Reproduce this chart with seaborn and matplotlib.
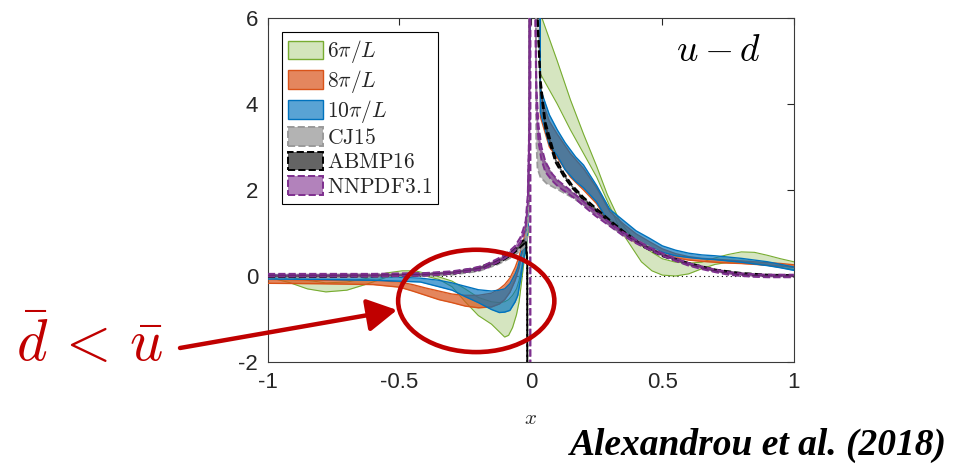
import numpy as np
import matplotlib
matplotlib.use("Agg")
import matplotlib.pyplot as plt
from matplotlib.patches import Patch, Ellipse
import seaborn as sns

# ---------------- data: u - d quasi-PDF bands ----------------
# lattice 6pi/L
g_x  = [-1.0, -0.92, -0.85, -0.78, -0.7, -0.62, -0.55, -0.49, -0.44, -0.4, -0.35, -0.3, -0.25, -0.2,
        -0.15, -0.12, -0.1, -0.085, -0.07, -0.055, -0.045, -0.035, -0.025, -0.01, 0.0, 0.03, 0.036,
        0.1, 0.15, 0.2, 0.25, 0.29, 0.34, 0.38, 0.42, 0.46, 0.5, 0.55, 0.6, 0.65, 0.7, 0.75, 0.8,
        0.85, 0.9, 0.95, 1.0]
g_lo = [-0.03, -0.15, -0.3, -0.37, -0.33, -0.18, -0.03, 0.0, 0.02, 0.0, -0.08, -0.25, -0.6, -0.92,
        -1.12, -1.3, -1.42, -1.38, -1.2, -0.9, -0.6, -0.1, 0.4, 1.0, 9.0, 9.0, 4.7,
        4.0, 3.4, 2.85, 2.3, 1.75, 1.07, 0.7, 0.33, 0.12, 0.02, 0.0, 0.05, 0.17, 0.27, 0.32, 0.33,
        0.3, 0.25, 0.2, 0.15]
g_hi = [0.05, -0.02, -0.1, -0.16, -0.14, -0.05, 0.07, 0.12, 0.12, 0.06, -0.02, -0.12, -0.3, -0.5,
        -0.6, -0.62, -0.6, -0.55, -0.45, -0.3, -0.1, 0.2, 0.6, 1.5, 9.0, 9.0, 6.1,
        5.0, 4.1, 3.3, 2.55, 1.9, 1.25, 0.95, 0.72, 0.55, 0.4, 0.32, 0.3, 0.32, 0.42, 0.5, 0.56,
        0.55, 0.48, 0.4, 0.33]

# lattice 8pi/L
o_x  = [-1.0, -0.8, -0.6, -0.5, -0.45, -0.4, -0.35, -0.3, -0.25, -0.2, -0.15, -0.12, -0.1, -0.08,
        -0.06, -0.045, -0.035, -0.025, -0.01, 0.0, 0.033, 0.036, 0.07, 0.1, 0.15, 0.2, 0.25, 0.3,
        0.35, 0.4, 0.45, 0.5, 0.55, 0.6, 0.65, 0.7, 0.75, 0.8, 0.85, 0.9, 0.95, 1.0]
o_lo = [-0.17, -0.18, -0.2, -0.26, -0.35, -0.45, -0.55, -0.62, -0.7, -0.74, -0.72, -0.65, -0.55, -0.38,
        -0.1, 0.2, 0.5, 0.7, 1.3, 9.0, 9.0, 3.7, 3.0, 2.75, 2.3, 2.0, 1.68, 1.2,
        0.95, 0.77, 0.63, 0.5, 0.42, 0.37, 0.34, 0.32, 0.3, 0.29, 0.27, 0.25, 0.23, 0.2]
o_hi = [-0.09, -0.1, -0.1, -0.14, -0.2, -0.28, -0.35, -0.42, -0.45, -0.45, -0.4, -0.3, -0.2, -0.05,
        0.2, 0.45, 0.7, 0.9, 1.7, 9.0, 9.0, 4.2, 3.6, 3.3, 2.85, 2.5, 2.05, 1.5,
        1.22, 0.98, 0.8, 0.63, 0.52, 0.45, 0.41, 0.39, 0.37, 0.35, 0.33, 0.31, 0.29, 0.26]

# lattice 10pi/L
b_x  = [-1.0, -0.8, -0.6, -0.5, -0.42, -0.35, -0.3, -0.25, -0.2, -0.15, -0.12, -0.1, -0.08, -0.06,
        -0.05, -0.04, -0.03, -0.02, -0.01, 0.0, 0.033, 0.036, 0.07, 0.1, 0.13, 0.17, 0.2, 0.25, 0.3,
        0.35, 0.4, 0.45, 0.5, 0.55, 0.6, 0.65, 0.7, 0.75, 0.8, 0.85, 0.9, 0.95, 1.0]
b_lo = [-0.07, -0.08, -0.1, -0.12, -0.14, -0.25, -0.33, -0.48, -0.62, -0.78, -0.85, -0.84, -0.8, -0.6,
        -0.45, -0.1, 0.3, 0.6, 1.2, 9.0, 9.0, 3.8, 3.05, 2.8, 2.47, 2.2, 2.05, 1.72, 1.2,
        0.98, 0.8, 0.68, 0.55, 0.47, 0.43, 0.4, 0.38, 0.35, 0.32, 0.28, 0.24, 0.19, 0.13]
b_hi = [0.02, 0.0, -0.02, -0.03, -0.05, -0.1, -0.16, -0.24, -0.32, -0.35, -0.33, -0.3, -0.18, 0.05,
        0.2, 0.45, 0.7, 0.9, 1.8, 9.0, 9.0, 4.35, 3.75, 3.4, 3.1, 2.77, 2.58, 2.1, 1.55,
        1.3, 1.05, 0.88, 0.7, 0.6, 0.53, 0.49, 0.47, 0.44, 0.41, 0.37, 0.33, 0.27, 0.21]

# CJ15 (negative and positive branches)
cj_xn  = [-1.0, -0.8, -0.6, -0.5, -0.4, -0.3, -0.2, -0.13, -0.1, -0.07, -0.05, -0.035, -0.025,
          -0.015, -0.008, -0.005]
cj_lon = [-0.03, -0.03, -0.02, -0.01, 0.0, 0.03, 0.11, 0.26, 0.35, 0.45, 0.54, 0.62, 0.68, 0.85, 1.6, 30.0]
cj_hin = [0.03, 0.03, 0.04, 0.05, 0.06, 0.09, 0.19, 0.34, 0.45, 0.55, 0.66, 0.74, 0.82, 1.05, 2.0, 30.0]
cj_xp  = [0.01, 0.02, 0.025, 0.036, 0.06, 0.1, 0.15, 0.2, 0.25, 0.3, 0.35, 0.4, 0.5, 0.6, 0.7, 0.8, 0.9, 1.0]
cj_lop = [30.0, 3.2, 2.5, 2.3, 2.15, 2.02, 1.85, 1.66, 1.42, 1.17, 0.95, 0.78, 0.47, 0.26, 0.11, 0.03, 0.0, 0.0]
cj_hip = [30.0, 4.5, 3.6, 3.0, 2.55, 2.2, 1.97, 1.74, 1.5, 1.24, 1.02, 0.84, 0.52, 0.3, 0.15, 0.06, 0.02, 0.01]

# ABMP16 (central value and error)
ab_xn  = [-1.0, -0.8, -0.6, -0.5, -0.4, -0.3, -0.2, -0.13, -0.1, -0.07, -0.05, -0.035, -0.025,
          -0.018, -0.014, -0.0135]
ab_cn  = [0.0, 0.0, 0.01, 0.02, 0.04, 0.07, 0.17, 0.32, 0.42, 0.55, 0.65, 0.75, 0.8, 0.72, 0.3, -30.0]
ab_en  = [0.02, 0.02, 0.02, 0.02, 0.02, 0.02, 0.03, 0.03, 0.03, 0.04, 0.04, 0.05, 0.05, 0.05, 0.05, 0.05]
ab_xp  = [0.018, 0.025, 0.036, 0.055, 0.093, 0.125, 0.158, 0.2, 0.245, 0.3, 0.35, 0.42, 0.5, 0.6,
          0.7, 0.8, 0.9, 1.0]
ab_cp  = [30.0, 6.0, 4.5, 3.5, 2.7, 2.35, 2.07, 1.8, 1.56, 1.27, 1.03, 0.72, 0.48, 0.28, 0.13, 0.05, 0.01, 0.0]
ab_ep  = [0.2, 0.15, 0.1, 0.08, 0.05, 0.04, 0.03, 0.03, 0.03, 0.03, 0.02, 0.02, 0.02, 0.02, 0.02, 0.02, 0.02, 0.02]

# NNPDF3.1 (central value and error)
nn_xn  = [-1.0, -0.8, -0.6, -0.5, -0.4, -0.3, -0.23, -0.18, -0.13, -0.1, -0.078, -0.06, -0.04, -0.03,
          -0.02, -0.012, -0.006, -0.003, -0.002]
nn_cn  = [0.02, 0.02, 0.02, 0.03, 0.04, 0.08, 0.14, 0.2, 0.35, 0.45, 0.55, 0.65, 0.84, 1.0,
          1.2, 1.8, 3.5, 30.0, -30.0]
nn_en  = [0.03, 0.03, 0.03, 0.03, 0.03, 0.03, 0.03, 0.04, 0.04, 0.04, 0.05, 0.05, 0.06, 0.07,
          0.08, 0.1, 0.15, 0.2, 0.2]
nn_xp  = [0.012, 0.017, 0.021, 0.029, 0.04, 0.055, 0.08, 0.105, 0.14, 0.17, 0.2, 0.245, 0.3, 0.35,
          0.4, 0.45, 0.5, 0.55, 0.6, 0.65, 0.7, 0.75, 0.8, 0.85, 0.9, 1.0]
nn_cp  = [30.0, 6.0, 4.1, 3.3, 2.85, 2.54, 2.3, 2.14, 1.98, 1.84, 1.68, 1.45, 1.2, 0.98,
          0.8, 0.64, 0.5, 0.38, 0.27, 0.19, 0.12, 0.06, 0.03, 0.01, 0.0, 0.0]
nn_ep  = [0.3, 0.3, 0.25, 0.2, 0.15, 0.12, 0.08, 0.07, 0.06, 0.05, 0.05, 0.05, 0.04, 0.04,
          0.04, 0.03, 0.03, 0.03, 0.03, 0.03, 0.03, 0.03, 0.03, 0.03, 0.03, 0.03]

labels = [r"$6\pi/L$", r"$8\pi/L$", r"$10\pi/L$", r"$\mathrm{CJ15}$", r"$\mathrm{ABMP16}$",
          r"$\mathrm{NNPDF3.1}$"]
x_ticks = [-1, -0.5, 0, 0.5, 1]
x_ticklabels = ["-1", "-0.5", "0", "0.5", "1"]
y_ticks = [-2, 0, 2, 4, 6]
y_ticklabels = ["-2", "0", "2", "4", "6"]

# ---------------- style ----------------
sns.set_style("white")
plt.rcParams["font.family"] = ["Liberation Sans", "DejaVu Sans"]
plt.rcParams["mathtext.fontset"] = "cm"
plt.rcParams["axes.unicode_minus"] = False

GREEN, ORANGE, BLUE = "#77AC30", "#D95319", "#0072BD"
PURPLE = "#7E2F8E"
RED = "#C00000"
TXT = "#262626"

fig = plt.figure(figsize=(9.57, 4.66), dpi=100)
ax = fig.add_axes([0.2800, 0.2232, 0.5496, 0.7382])

ax.axhline(0, color="k", linestyle=(0, (1, 3)), lw=0.8, zorder=1)


def band(x, lo, hi, edge, face, alpha, ls, lw, z):
    x = np.asarray(x, float)
    lo = np.asarray(lo, float)
    hi = np.asarray(hi, float)
    ax.fill_between(x, lo, hi, color=face, alpha=alpha, lw=0, zorder=z)
    for y in (lo, hi):
        sns.lineplot(x=x, y=y, ax=ax, color=edge, lw=lw, linestyle=ls, sort=False,
                     estimator=None, legend=False, zorder=z + 0.1)


band(g_x, g_lo, g_hi, GREEN, GREEN, 0.3, "-", 0.8, 2)
band(o_x, o_lo, o_hi, ORANGE, ORANGE, 0.7, "-", 1.0, 3)
band(b_x, b_lo, b_hi, BLUE, BLUE, 0.65, "-", 1.0, 4)

band(cj_xn, cj_lon, cj_hin, "#9a9a9a", "#999999", 0.7, "--", 1.3, 5)
band(cj_xp, cj_lop, cj_hip, "#9a9a9a", "#999999", 0.7, "--", 1.3, 5)

for xs, c, e in ((ab_xn, ab_cn, ab_en), (ab_xp, ab_cp, ab_ep)):
    c, e = np.asarray(c), np.asarray(e)
    band(xs, c - e, c + e, "black", "#333333", 0.75, "--", 1.4, 6)

for xs, c, e in ((nn_xn, nn_cn, nn_en), (nn_xp, nn_cp, nn_ep)):
    c, e = np.asarray(c), np.asarray(e)
    band(xs, c - e, c + e, PURPLE, PURPLE, 0.6, "--", 1.4, 7)

# ---------------- axes ----------------
ax.set_xlim(-1, 1)
ax.set_ylim(-2, 6)
ax.set_xticks(x_ticks)
ax.set_xticklabels(x_ticklabels)
ax.set_yticks(y_ticks)
ax.set_yticklabels(y_ticklabels)
ax.tick_params(direction="in", top=True, right=True, length=5, width=0.8,
               labelsize=16, labelcolor=TXT, color=TXT, pad=7)
for s in ax.spines.values():
    s.set_color("#3a3a3a")
    s.set_linewidth(0.8)
ax.set_xlabel(r"$x$", fontsize=15, color=TXT, labelpad=12)
ax.set_ylabel("")

ax.text(0.856, 0.905, r"$u-d$", transform=ax.transAxes, fontsize=27,
        ha="center", va="center", color="black")

# ---------------- legend ----------------
handles = [
    Patch(facecolor="#d3e5bb", edgecolor=GREEN, lw=1.0),
    Patch(facecolor="#e4865e", edgecolor=ORANGE, lw=1.0),
    Patch(facecolor="#59a3d4", edgecolor=BLUE, lw=1.0),
    Patch(facecolor="#b3b3b3", edgecolor="#9a9a9a", lw=1.4, linestyle="--"),
    Patch(facecolor="#646464", edgecolor="black", lw=1.4, linestyle="--"),
    Patch(facecolor="#b282bb", edgecolor=PURPLE, lw=1.4, linestyle="--"),
]
leg = ax.legend(handles, labels, loc="upper left", bbox_to_anchor=(0.027, 0.958),
                borderaxespad=0, fontsize=15.5, handlelength=1.62, handleheight=0.97,
                handletextpad=0.2, labelspacing=0.12, borderpad=0.28, fancybox=False,
                framealpha=1, edgecolor="black")
leg.get_frame().set_linewidth(0.8)
leg.set_zorder(20)

# ---------------- annotations ----------------
ax.add_patch(Ellipse((-0.208, -0.58), 0.594, 2.38, fill=False, ec=RED, lw=3.3,
                     clip_on=False, zorder=15))
ax.annotate("", xy=(397, 466 - 310), xycoords="figure pixels",
            xytext=(180, 466 - 348), textcoords="figure pixels",
            arrowprops=dict(arrowstyle="-|>,head_length=0.9,head_width=0.5",
                            color=RED, lw=3.2, mutation_scale=20, shrinkA=0, shrinkB=0))
fig.text(90 / 957, 1 - 361 / 466, r"$\bar{d}\,<\,\bar{u}$", fontsize=42, color=RED,
         ha="center", va="baseline")
fig.text(947 / 957, 1 - 455 / 466, "Alexandrou et al. (2018)", fontsize=27,
         family="Liberation Serif", weight="bold", style="italic", color="black",
         ha="right", va="baseline")

fig.savefig("out.png", dpi=100)
